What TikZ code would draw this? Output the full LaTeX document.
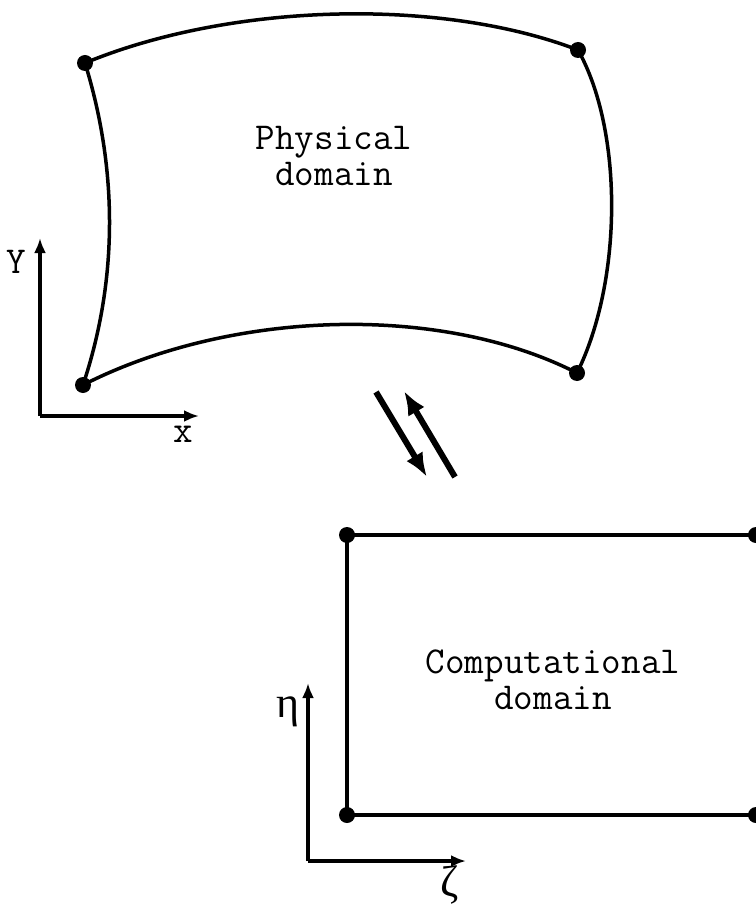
\documentclass[tikz,border=0pt]{standalone}
\usepackage{fontspec}
\newfontfamily\grk{Liberation Serif}
\usetikzlibrary{arrows.meta}
\begin{document}
\begin{tikzpicture}[x=1pt,y=-1pt,
  edge/.style={line width=3.5pt},
  dot/.style={circle,fill=black,inner sep=0pt,minimum size=16pt},
  axis/.style={line width=3.5pt,-{Latex[length=15pt,width=12pt]}},
  maparrow/.style={line width=6pt,-{Latex[length=24pt,width=19pt]}},
  lbl/.style={font=\fontsize{38}{36}\selectfont\ttfamily,align=center},
  glbl/.style={font=\fontsize{44}{48}\selectfont\grk,inner sep=1pt}]
\useasboundingbox (0,0) rectangle (755,909);
% physical domain
\coordinate (p1) at (85,63);
\coordinate (p2) at (578,50);
\coordinate (p3) at (577,373);
\coordinate (p4) at (83,385);
\draw[edge] (p1) .. controls (230,3) and (440,-3) .. (p2)
  .. controls (623,130) and (623,280) .. (p3)
  .. controls (440,303) and (230,310) .. (p4)
  .. controls (118,280) and (118,170) .. (p1);
\foreach \c in {p1,p2,p3,p4} \node[dot] at (\c) {};
\node[lbl] (phys) at (334,156) {Physical\\domain};
% physical axes
\coordinate (o1) at (40,416);
\coordinate (yend) at (40,238);
\coordinate (xend) at (199,416);
\draw[axis] (o1) -- (yend);
\draw[axis] (o1) -- (xend);
\node[lbl] (ylab) at (16,262) {Y};
\node[lbl] (xlab) at (183,434) {x};
% mapping arrows
\coordinate (a1s) at (376,392);
\coordinate (a1e) at (427,477);
\coordinate (a2s) at (455,477);
\coordinate (a2e) at (404,391);
\draw[maparrow] (a1s) -- (a1e);
\draw[maparrow] (a2s) -- (a2e);
% computational domain
\coordinate (c1) at (347,535);
\coordinate (c2) at (756,535);
\coordinate (c3) at (756,815);
\coordinate (c4) at (347,815);
\draw[edge] (c2) -- (c1) -- (c4) -- (c3);
\foreach \c in {c1,c2,c3,c4} \node[dot] at (\c) {};
\node[lbl] (comp) at (553,680) {Computational\\domain};
% computational axes
\coordinate (o2) at (308,861);
\coordinate (etaend) at (308,683);
\coordinate (zetaend) at (466,861);
\draw[axis] (o2) -- (etaend);
\draw[axis] (o2) -- (zetaend);
\node[glbl] (etalab) at (288,712) {η};
\node[glbl] (zetalab) at (450,885) {ζ};
\end{tikzpicture}
\end{document}
